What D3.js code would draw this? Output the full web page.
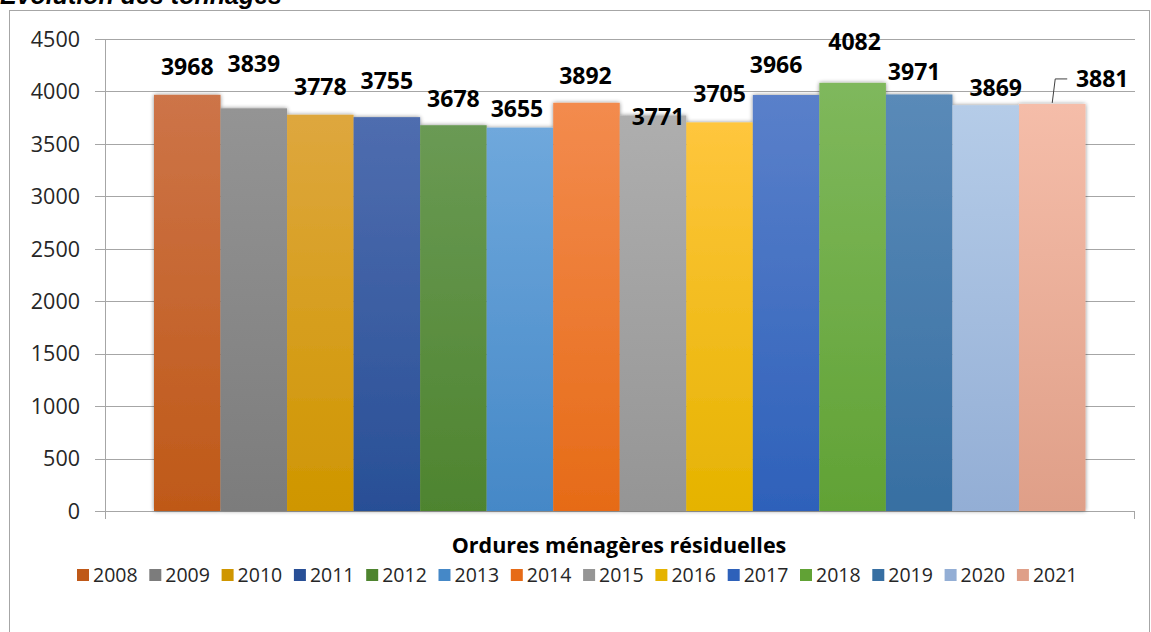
<!DOCTYPE html>
<html><head><meta charset="utf-8">
<script src="https://cdn.jsdelivr.net/npm/d3@7"></script>
<style>
html,body{margin:0;padding:0;background:#fff;overflow:hidden}
svg{display:block}
</style></head>
<body>
<svg id="c" width="1151" height="632"></svg>
<script>
const years = ["2008","2009","2010","2011","2012","2013","2014","2015","2016","2017","2018","2019","2020","2021"];
const values = [3968,3839,3778,3755,3678,3655,3892,3771,3705,3966,4082,3971,3869,3881];
const topColors = ["#CD7448","#949494","#DEA73E","#4F6DAF","#6A9A54","#6FA8DC","#F38B4E","#AEAEAE","#FFC63D","#5A80CA","#7FB85C","#5A8AB8","#B5CCE8","#F5BDA9"];
const bottomColors = ["#BF5918","#7C7C7C","#CF9600","#284F96","#4E842F","#4588C7","#E66B17","#959595","#E5B300","#2E61BA","#61A235","#376FA2","#93AED5","#DF9F88"];
const yTicks = [0,500,1000,1500,2000,2500,3000,3500,4000,4500];
const categoryTitle = "Ordures ménagères résiduelles";
const chartTitle = "Evolution des tonnages";
// label nudges (pixels) reproducing the reference's label placement
const labelDx = [0,0,0,0,0,-3,-1,5,0,-10,2,-5,10,50];
const labelDy = [-20,-36,-20,-28,-18,-11,-19,10,-20,-22,-33,-14,-9,-17];

const svg = d3.select("#c");
const plot = {l:105, r:1135, t:39, b:511};
const y = d3.scaleLinear().domain([0,4500]).range([plot.b, plot.t]);
const x = d3.scaleBand().domain(years).range([154,1085.5]).padding(0);

const defs = svg.append("defs");
years.forEach((yr,i)=>{
  const g = defs.append("linearGradient").attr("id","g"+i).attr("x1",0).attr("y1",0).attr("x2",0).attr("y2",1);
  g.append("stop").attr("offset","0%").attr("stop-color",topColors[i]);
  g.append("stop").attr("offset","100%").attr("stop-color",bottomColors[i]);
});
const f = defs.append("filter").attr("id","sh").attr("x","-5%").attr("y","-5%").attr("width","110%").attr("height","110%");
f.append("feGaussianBlur").attr("in","SourceAlpha").attr("stdDeviation",2.2).attr("result","b");
f.append("feComponentTransfer").attr("in","b").attr("result","b2").append("feFuncA").attr("type","linear").attr("slope",0.45);
const m = f.append("feMerge"); m.append("feMergeNode").attr("in","b2"); m.append("feMergeNode").attr("in","SourceGraphic");

// chart border
svg.append("rect").attr("x",9.5).attr("y",10.5).attr("width",1140).attr("height",640)
  .attr("fill","none").attr("stroke","#A6A6A6").attr("stroke-width",1);

// title (partly cut, as in the reference)
svg.append("text").attr("x",0).attr("y",4).text(chartTitle)
  .attr("font-family","'Liberation Sans',Arial,sans-serif").attr("font-weight","bold").attr("font-style","italic")
  .attr("font-size",25).attr("fill","#000");

// grid
svg.append("g").selectAll("line").data(yTicks).join("line")
  .attr("x1",95).attr("x2",plot.r).attr("y1",d=>Math.round(y(d))+0.5).attr("y2",d=>Math.round(y(d))+0.5)
  .attr("stroke","#A6A6A6").attr("stroke-width",1);
// y axis line + category ticks
svg.append("line").attr("x1",plot.l+0.5).attr("x2",plot.l+0.5).attr("y1",plot.t).attr("y2",plot.b+8).attr("stroke","#A6A6A6");
svg.append("line").attr("x1",plot.r-0.5).attr("x2",plot.r-0.5).attr("y1",plot.b).attr("y2",plot.b+8).attr("stroke","#A6A6A6");

// y tick labels
svg.append("g").selectAll("text").data(yTicks).join("text")
  .attr("x",80).attr("y",d=>y(d)).attr("dy","0.36em").attr("text-anchor","end")
  .attr("font-family","'Open Sans',sans-serif").attr("font-size",21.5).attr("fill","#262626")
  .text(d=>d);

// bars
svg.append("g").attr("filter","url(#sh)").selectAll("rect").data(values).join("rect")
  .attr("x",(d,i)=>x(years[i])).attr("width",x.bandwidth())
  .attr("y",d=>y(d)).attr("height",d=>plot.b-y(d))
  .attr("fill",(d,i)=>`url(#g${i})`);

// leader line for last label
{
  const i = 13, cx = x(years[i]) + x.bandwidth()/2, top = y(values[i]);
  svg.append("path").attr("d",`M${cx},${top-1} L${cx+3},${top-25} L${cx+15},${top-25}`)
    .attr("fill","none").attr("stroke","#404040").attr("stroke-width",1);
}

// value labels
svg.append("g").selectAll("text").data(values).join("text")
  .attr("x",(d,i)=>x(years[i])+x.bandwidth()/2+labelDx[i])
  .attr("y",(d,i)=>y(d)+labelDy[i])
  .attr("text-anchor","middle")
  .attr("font-family","'Open Sans',sans-serif").attr("font-weight","bold").attr("font-size",23).attr("fill","#000")
  .text(d=>d);

// category title
svg.append("text").attr("x",(plot.l+plot.r)/2-1).attr("y",553).attr("text-anchor","middle")
  .attr("font-family","'Open Sans',sans-serif").attr("font-weight","bold").attr("font-size",21.5).attr("fill","#000")
  .text(categoryTitle);

// legend
const lx = d3.scaleBand().domain(years).range([77, 77+14*72.3]);
const lg = svg.append("g").selectAll("g").data(years).join("g").attr("transform",d=>`translate(${lx(d)},0)`);
lg.append("rect").attr("x",0).attr("y",569).attr("width",12).attr("height",12).attr("fill",(d,i)=>bottomColors[i]);
lg.append("text").attr("x",16).attr("y",582).text(d=>d)
  .attr("font-family","'Open Sans',sans-serif").attr("font-size",19.5).attr("fill","#262626");
</script>
</body></html>
